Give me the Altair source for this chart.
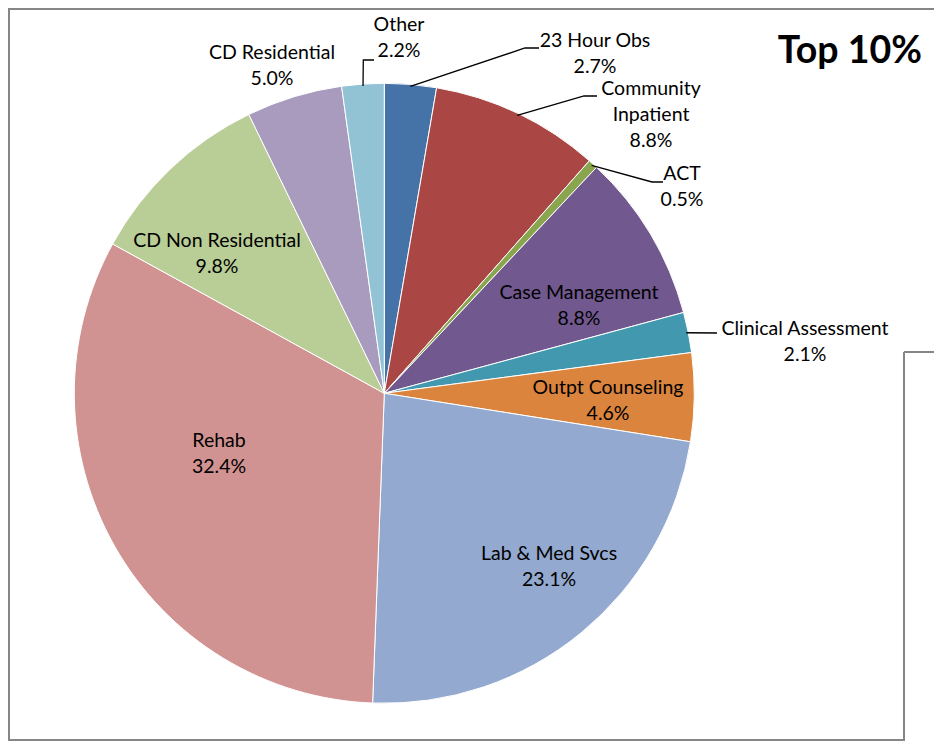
import math
import numpy as np
import pandas as pd
import altair as alt

# ---------------- data ----------------
categories = ["23 Hour Obs", "Community Inpatient", "ACT", "Case Management",
              "Clinical Assessment", "Outpt Counseling", "Lab & Med Svcs", "Rehab",
              "CD Non Residential", "CD Residential", "Other"]
shares = [2.7, 8.8, 0.5, 8.8, 2.1, 4.6, 23.1, 32.4, 9.8, 5.0, 2.2]
label_names = ["23 Hour Obs", "Community\nInpatient", "ACT", "Case Management",
               "Clinical Assessment", "Outpt Counseling", "Lab & Med Svcs", "Rehab",
               "CD Non Residential", "CD Residential", "Other"]
colors = ["#4572A7", "#AA4643", "#89A54E", "#71588F", "#4198AF", "#DB843D",
          "#93A9CF", "#D19392", "#B9CD96", "#A99BBD", "#91C3D5"]
title_text = "Top 10%"

# ---------------- layout (pixels, chart space) ----------------
W, H = 926, 733
CX, CY = 376.3, 385.3     # pie centre
R = 310                   # pie radius
FONT = "Lato"
FS, LH = 19.5, 26

# label block centres, offset from pie centre
label_offset = {
    "23 Hour Obs": (210.7, -339.3),
    "Community Inpatient": (266.7, -278.3),
    "ACT": (297.7, -206.8),
    "Case Management": (194.7, -87.3),
    "Clinical Assessment": (420.7, -51.8),
    "Outpt Counseling": (223.7, 7.7),
    "Lab & Med Svcs": (164.7, 173.2),
    "Rehab": (-165.3, 60.7),
    "CD Non Residential": (-167.3, -139.3),
    "CD Residential": (-112.3, -327.8),
    "Other": (14.7, -355.3),
}
# leader lines: (elbow offset, end offset) from pie centre
leader_offset = {
    "Other": ((-21.0, -333.3), (-10.3, -333.3)),
    "23 Hour Obs": ((140.7, -345.3), (154.7, -345.3)),
    "Community Inpatient": ((199.7, -297.3), (212.7, -297.3)),
    "ACT": ((267.7, -211.3), (278.7, -211.3)),
    "Clinical Assessment": ((332.7, -60.3), (332.7, -60.3)),
}

df = pd.DataFrame({
    "idx": list(range(len(categories))),
    "category": categories,
    "share": shares,
})
df["label"] = [f"{n}\n{s:.1f}%" for n, s in zip(label_names, shares)]
nlines = [lab.count("\n") + 1 for lab in df["label"]]
cum = np.cumsum(shares)
total = cum[-1]
df["mid"] = (cum - np.array(shares) / 2) / total * 2 * math.pi
df["lx"] = [CX + label_offset[c][0] for c in categories]
# first line position so that the whole block is centred on the offset
df["ly"] = [CY + label_offset[c][1] - (n - 1) * LH / 2 for c, n in zip(categories, nlines)]

rows = []
for _, r in df.iterrows():
    c = r["category"]
    if c not in leader_offset:
        continue
    sx = CX + (R - 2) * math.sin(r["mid"])
    sy = CY - (R - 2) * math.cos(r["mid"])
    (ex, ey), (fx, fy) = leader_offset[c]
    rows += [
        {"category": c, "pt": 0, "x": sx, "y": sy},
        {"category": c, "pt": 1, "x": CX + ex, "y": CY + ey},
        {"category": c, "pt": 2, "x": CX + fx, "y": CY + fy},
    ]
leaders = pd.DataFrame(rows)

# ---------------- chart ----------------
pie = alt.Chart(df).mark_arc(radius=R, stroke="white", strokeWidth=1).encode(
    theta=alt.Theta("share:Q", stack=True),
    order=alt.Order("idx:Q"),
    color=alt.Color("category:N", scale=alt.Scale(domain=categories, range=colors), legend=None),
    x=alt.value(CX),
    y=alt.value(CY),
)

labels = alt.Chart(df).mark_text(
    font=FONT, fontSize=FS, lineHeight=LH, lineBreak="\n", color="black",
    align="center", baseline="middle",
).encode(
    x=alt.X("lx:Q", scale=None, axis=None),
    y=alt.Y("ly:Q", scale=None, axis=None),
    text="label:N",
)

lead = alt.Chart(leaders).mark_line(color="black", strokeWidth=1.3).encode(
    x=alt.X("x:Q", scale=None, axis=None),
    y=alt.Y("y:Q", scale=None, axis=None),
    detail="category:N",
    order="pt:Q",
)

title = alt.Chart(pd.DataFrame({"t": [title_text]})).mark_text(
    font=FONT, fontSize=37.5, fontWeight="bold", color="black", align="right", baseline="middle",
).encode(x=alt.value(914), y=alt.value(43.5), text="t:N")

border_col = "#868686"
def rule(x, x2, y, y2):
    return alt.Chart(pd.DataFrame({"a": [0]})).mark_rule(color=border_col, strokeWidth=2).encode(
        x=alt.value(x), x2=alt.value(x2), y=alt.value(y), y2=alt.value(y2))

frame = [
    rule(0, W, 1, 1),            # top
    rule(1, 1, 0, H - 1),        # left
    rule(0, 896, H - 1, H - 1),  # bottom
    rule(896, 896, 344, H),      # right lower part
    rule(896, W, 344, 344),      # step
]

chart = alt.layer(pie, lead, labels, title, *frame).properties(
    width=W, height=H, padding=0, autosize=alt.AutoSizeParams(type="none"),
    background="white",
).configure_view(stroke=None)

chart.save("out.html", embed_options={"renderer": "svg", "actions": False})
